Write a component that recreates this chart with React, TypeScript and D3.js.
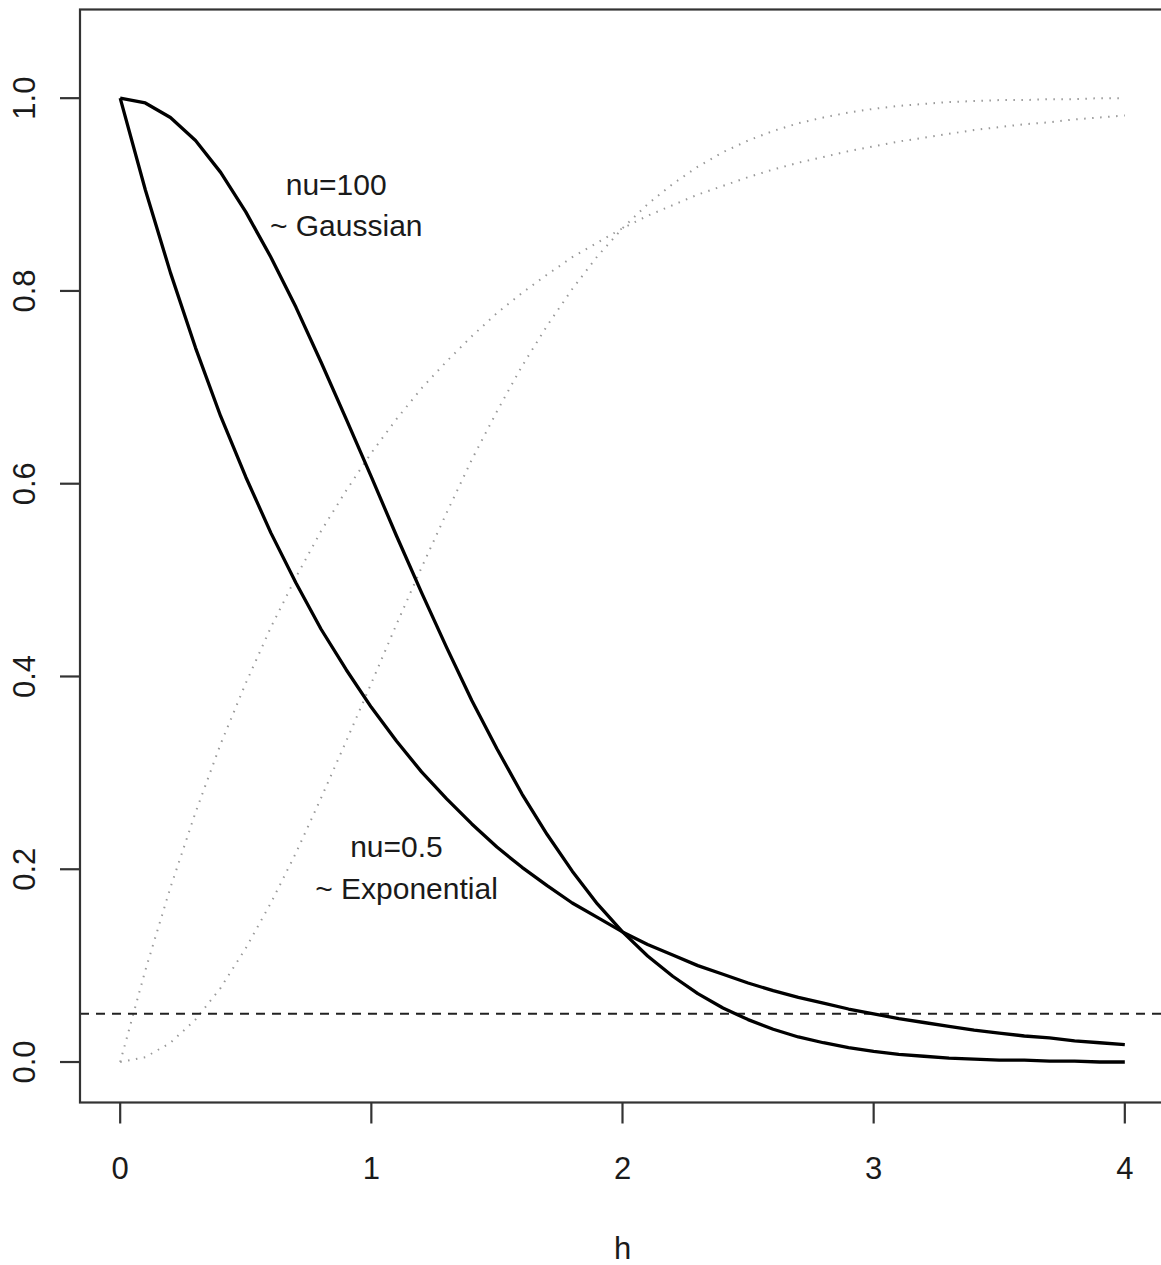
import React from 'react';
import * as d3 from 'd3';

// lag distances
const hValues = [
  0, 0.1, 0.2, 0.3, 0.4, 0.5, 0.6, 0.7, 0.8, 0.9,
  1, 1.1, 1.2, 1.3, 1.4, 1.5, 1.6, 1.7, 1.8, 1.9,
  2, 2.1, 2.2, 2.3, 2.4, 2.5, 2.6, 2.7, 2.8, 2.9,
  3, 3.1, 3.2, 3.3, 3.4, 3.5, 3.6, 3.7, 3.8, 3.9, 4,
];

// correlation, nu=0.5 (exponential)
const corrExp = [
  1, 0.905, 0.819, 0.741, 0.67, 0.607, 0.549, 0.497, 0.449, 0.407,
  0.368, 0.333, 0.301, 0.273, 0.247, 0.223, 0.202, 0.183, 0.165, 0.15,
  0.135, 0.122, 0.111, 0.1, 0.091, 0.082, 0.074, 0.067, 0.061, 0.055,
  0.05, 0.045, 0.041, 0.037, 0.033, 0.03, 0.027, 0.025, 0.022, 0.02, 0.018,
];

// correlation, nu=100 (~gaussian)
const corrGauss = [
  1, 0.995, 0.98, 0.956, 0.923, 0.882, 0.835, 0.783, 0.726, 0.667,
  0.607, 0.546, 0.487, 0.43, 0.375, 0.325, 0.278, 0.236, 0.198, 0.164,
  0.135, 0.11, 0.089, 0.071, 0.056, 0.044, 0.034, 0.026, 0.02, 0.015,
  0.011, 0.008, 0.006, 0.004, 0.003, 0.002, 0.002, 0.001, 0.001, 0, 0,
];

// semivariogram curves (dotted)
const variExp = [
  0, 0.095, 0.181, 0.259, 0.33, 0.393, 0.451, 0.503, 0.551, 0.593,
  0.632, 0.667, 0.699, 0.727, 0.753, 0.777, 0.798, 0.817, 0.835, 0.85,
  0.865, 0.878, 0.889, 0.9, 0.909, 0.918, 0.926, 0.933, 0.939, 0.945,
  0.95, 0.955, 0.959, 0.963, 0.967, 0.97, 0.973, 0.975, 0.978, 0.98, 0.982,
];
const variGauss = [
  0, 0.005, 0.02, 0.044, 0.077, 0.118, 0.165, 0.217, 0.274, 0.333,
  0.393, 0.454, 0.513, 0.57, 0.625, 0.675, 0.722, 0.764, 0.802, 0.836,
  0.865, 0.89, 0.911, 0.929, 0.944, 0.956, 0.966, 0.974, 0.98, 0.985,
  0.989, 0.992, 0.994, 0.996, 0.997, 0.998, 0.998, 0.999, 0.999, 1, 1,
];

const xTicks = [0, 1, 2, 3, 4];
const yTicks = [0, 0.2, 0.4, 0.6, 0.8, 1.0];
const threshold = 0.05;

const labels = [
  { x: 0.86, y: 0.9, text: 'nu=100' },
  { x: 0.9, y: 0.857, text: '~ Gaussian' },
  { x: 1.1, y: 0.213, text: 'nu=0.5' },
  { x: 1.14, y: 0.169, text: '~ Exponential' },
];

const W = 1161;
const H = 1265;
const font = '"Liberation Sans", Arial, Helvetica, sans-serif';

export default function App() {
  const x = d3.scaleLinear().domain([-0.16, 4.16]).range([80, 1165]);
  const y = d3.scaleLinear().domain([-0.042, 1.092]).range([1102.5, 9.5]);

  const line = (vals: number[]) =>
    d3.line<number>()
      .x((_, i) => x(hValues[i]))
      .y((d) => y(d))(vals) || '';

  const [x0, x1] = x.range();
  const [yb, yt] = y.range();

  return (
    <svg
      width={W}
      height={H}
      style={{ position: 'absolute', top: 0, left: 0, background: '#fff' }}
      fontFamily={font}
    >
      {/* variograms */}
      {[variExp, variGauss].map((v, i) => (
        <path key={'v' + i} d={line(v)} fill="none" stroke="#999" strokeWidth={2}
          strokeDasharray="1.5 6.5" strokeLinecap="butt" />
      ))}
      {/* threshold */}
      <line x1={x0} x2={x1} y1={y(threshold)} y2={y(threshold)}
        stroke="#222" strokeWidth={2} strokeDasharray="9 7" />
      {/* correlations */}
      {[corrExp, corrGauss].map((v, i) => (
        <path key={'c' + i} d={line(v)} fill="none" stroke="#000" strokeWidth={3.3}
          strokeLinejoin="round" />
      ))}
      {/* frame */}
      <rect x={x0} y={yt} width={x1 - x0} height={yb - yt} fill="none" stroke="#333" strokeWidth={2.2} />
      {/* x axis */}
      {xTicks.map((t) => (
        <g key={'xt' + t}>
          <line x1={x(t)} x2={x(t)} y1={yb} y2={yb + 21} stroke="#333" strokeWidth={2.2} />
          <text x={x(t)} y={1179} textAnchor="middle" fontSize={31} fill="#1a1a1a">{t}</text>
        </g>
      ))}
      <text x={x(2)} y={1259} textAnchor="middle" fontSize={31} fill="#1a1a1a">h</text>
      {/* y axis */}
      {yTicks.map((t) => (
        <g key={'yt' + t}>
          <line x1={x0 - 20} x2={x0} y1={y(t)} y2={y(t)} stroke="#333" strokeWidth={2.2} />
          <text transform={`translate(35,${y(t)}) rotate(-90)`} textAnchor="middle"
            fontSize={31} fill="#1a1a1a">{t.toFixed(1)}</text>
        </g>
      ))}
      {/* annotations */}
      {labels.map((l) => (
        <text key={l.text} x={x(l.x)} y={y(l.y)} textAnchor="middle" fontSize={30} fill="#1a1a1a">
          {l.text}
        </text>
      ))}
    </svg>
  );
}
